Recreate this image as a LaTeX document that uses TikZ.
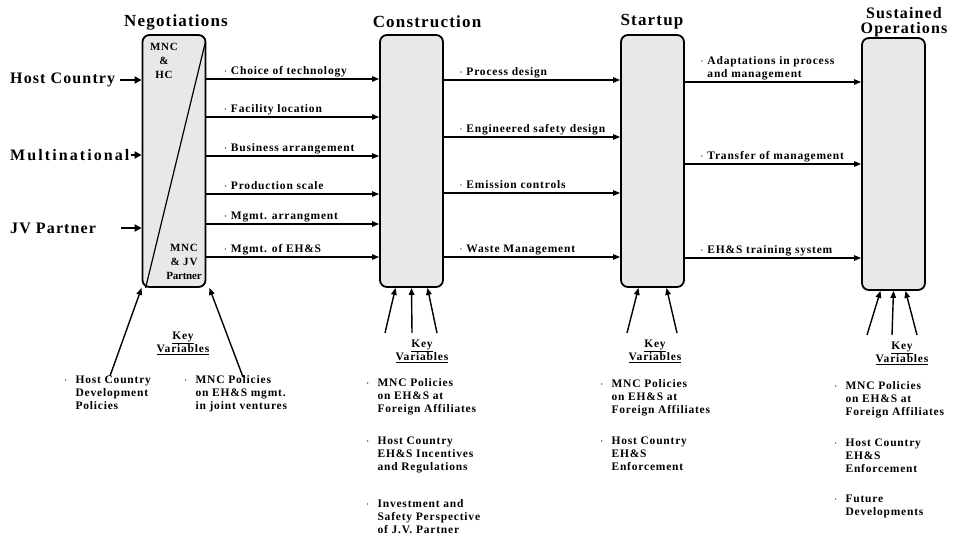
\documentclass[tikz,border=0pt]{standalone}
\usepackage{fontspec}
\setmainfont{Liberation Serif}[LetterSpace=7]
\usetikzlibrary{arrows.meta, positioning}
\newcommand{\bitem}[1]{\begin{tabular}[t]{@{}l@{\hspace{8pt}}l@{}}$\cdot$&\begin{tabular}[t]{@{}l@{}}#1\end{tabular}\end{tabular}}

\begin{document}
\begin{tikzpicture}[
    x=1pt, y=-1pt,
    box/.style={draw, line width=1.8pt, rounded corners=7pt, fill=black!9, minimum width=63pt, minimum height=252pt, inner sep=0pt},
    stage/.style={font=\fontsize{17}{17}\selectfont\bfseries, align=center},
    actor/.style={font=\fontsize{16}{16}\selectfont\bfseries, anchor=west, inner sep=0pt},
    lbl/.style={font=\fontsize{11.5}{12.5}\selectfont\bfseries, anchor=south west, text depth=3pt, inner sep=1pt, align=left},
    inbox/.style={font=\fontsize{11}{14}\selectfont\bfseries, align=center, inner sep=0pt},
    keyvar/.style={font=\fontsize{11.5}{13}\selectfont\bfseries, align=center},
    item/.style={font=\fontsize{11.5}{13}\selectfont\bfseries, anchor=north west, inner sep=0pt},
    arrow/.style={-{Triangle[length=7pt, width=5.5pt]}, line width=1.1pt},
    inarrow/.style={-{Triangle[length=7pt, width=7pt]}, line width=2pt},
    uparrow/.style={-{Triangle[length=7pt, width=5.5pt]}, line width=1.4pt},
]
\useasboundingbox (0,0) rectangle (954,536);

% Stages
\node[box] (neg) at (174,161) {};
\node[box] (con) at (411.5,161) {};
\node[box] (sta) at (652.5,161) {};
\node[box] (sus) at (893.5,164) {};

\node[stage] (negt) at (176,22) {Negotiations};
\node[stage] (cont) at (427,22) {Construction};
\node[stage] (stat) at (652,22) {Startup};
\node[stage, font=\fontsize{16}{15}\selectfont\bfseries] (sust) at (904,22) {Sustained\\Operations};

% Split of the negotiation box
\draw[line width=1.2pt] ([xshift=-1pt, yshift=-8pt]neg.north east) -- ([xshift=4pt]neg.south west);
\node[inbox] (mnchc) at (164,61) {MNC\\\&\\HC};
\node[inbox] (mncjv) at (184,262) {MNC\\\& JV\\\addfontfeature{LetterSpace=-2}Partner};

% Parties
\node[actor] (hc) at (10,80) {Host Country};
\node[actor, font=\fontsize{16}{16}\selectfont\bfseries\addfontfeature{LetterSpace=13}] (mn) at (10,155) {Multinational};
\node[actor] (jv) at (10,228) {JV Partner};
\coordinate (jvtail) at (121,228);
\draw[inarrow] ([xshift=5pt]hc.east) -- (neg.west |- hc);
\draw[inarrow] ([xshift=1pt]mn.east) -- (neg.west |- mn);
\draw[inarrow] (jvtail) -- (neg.west |- jvtail);

% Negotiations -> Construction
\draw[arrow] (neg.east |- 0,79) -- node[lbl, pos=0, xshift=16pt] {$\cdot$ Choice of technology} (con.west |- 0,79);
\draw[arrow] (neg.east |- 0,117) -- node[lbl, pos=0, xshift=16pt] {$\cdot$ Facility location} (con.west |- 0,117);
\draw[arrow] (neg.east |- 0,156) -- node[lbl, pos=0, xshift=16pt] {$\cdot$ Business arrangement} (con.west |- 0,156);
\draw[arrow] (neg.east |- 0,194) -- node[lbl, pos=0, xshift=16pt] {$\cdot$ Production scale} (con.west |- 0,194);
\draw[arrow] (neg.east |- 0,224) -- node[lbl, pos=0, xshift=16pt] {$\cdot$ Mgmt. arrangment} (con.west |- 0,224);
\draw[arrow] (neg.east |- 0,257) -- node[lbl, pos=0, xshift=16pt] {$\cdot$ Mgmt. of EH\&S} (con.west |- 0,257);

% Construction -> Startup
\draw[arrow] (con.east |- 0,80) -- node[lbl, pos=0, xshift=14pt] {$\cdot$ Process design} (sta.west |- 0,80);
\draw[arrow] (con.east |- 0,137) -- node[lbl, pos=0, xshift=14pt] {$\cdot$ Engineered safety design} (sta.west |- 0,137);
\draw[arrow] (con.east |- 0,193) -- node[lbl, pos=0, xshift=14pt] {$\cdot$ Emission controls} (sta.west |- 0,193);
\draw[arrow] (con.east |- 0,257) -- node[lbl, pos=0, xshift=14pt] {$\cdot$ Waste Management} (sta.west |- 0,257);

% Startup -> Sustained operations
\draw[arrow] (sta.east |- 0,82) -- node[lbl, pos=0, xshift=14pt] {$\cdot$ Adaptations in process\\\phantom{$\cdot$ }and management} (sus.west |- 0,82);
\draw[arrow] (sta.east |- 0,164) -- node[lbl, pos=0, xshift=14pt] {$\cdot$ Transfer of management} (sus.west |- 0,164);
\draw[arrow] (sta.east |- 0,258) -- node[lbl, pos=0, xshift=14pt] {$\cdot$ EH\&S training system} (sus.west |- 0,258);

% Key variables: negotiations
\node[keyvar] (kv1) at (183,343) {\underline{Key}\\\underline{Variables}};
\coordinate (n1) at (110,376);
\coordinate (n2) at (243,377);
\draw[uparrow] (n1) -- (neg.south west);
\draw[uparrow] (n2) -- ([xshift=3pt]neg.south east);
\node[item] (n1a) at (64,374) {\bitem{Host Country\\Development\\Policies}};
\node[item] (n2a) at (184,374) {\bitem{MNC Policies\\on EH\&S mgmt.\\in joint ventures}};

% Key variables: construction
\node[keyvar] (kv2) at (422,351) {\underline{Key}\\\underline{Variables}};
\coordinate (c1) at (385,333);
\coordinate (c2) at (412,333);
\coordinate (c3) at (437,333);
\draw[uparrow] (c1) -- ([xshift=-16pt]con.south);
\draw[uparrow] (c2) -- (con.south);
\draw[uparrow] (c3) -- ([xshift=16pt]con.south);
\node[item] (c1a) at (366,377) {\bitem{MNC Policies\\on EH\&S at\\Foreign Affiliates}};
\node[item] (c2a) at (366,435) {\bitem{Host Country\\EH\&S Incentives\\and Regulations}};
\node[item] (c3a) at (366,498) {\bitem{Investment and\\Safety Perspective\\of J.V. Partner}};

% Key variables: startup
\node[keyvar] (kv3) at (655,351) {\underline{Key}\\\underline{Variables}};
\coordinate (s1) at (627,333);
\coordinate (s2) at (677,333);
\draw[uparrow] (s1) -- ([xshift=-14pt]sta.south);
\draw[uparrow] (s2) -- ([xshift=14pt]sta.south);
\node[item] (s1a) at (600,378) {\bitem{MNC Policies\\on EH\&S at\\Foreign Affiliates}};
\node[item] (s2a) at (600,435) {\bitem{Host Country\\EH\&S\\Enforcement}};

% Key variables: sustained operations
\node[keyvar] (kv4) at (902,353) {\underline{Key}\\\underline{Variables}};
\coordinate (o1) at (867,335);
\coordinate (o2) at (892,335);
\coordinate (o3) at (917,335);
\draw[uparrow] (o1) -- ([xshift=-13pt]sus.south);
\draw[uparrow] (o2) -- (sus.south);
\draw[uparrow] (o3) -- ([xshift=12pt]sus.south);
\node[item] (o1a) at (834,380) {\bitem{MNC Policies\\on EH\&S at\\Foreign Affiliates}};
\node[item] (o2a) at (834,437) {\bitem{Host Country\\EH\&S\\Enforcement}};
\node[item] (o3a) at (834,493) {\bitem{Future\\Developments}};

\end{tikzpicture}
\end{document}
